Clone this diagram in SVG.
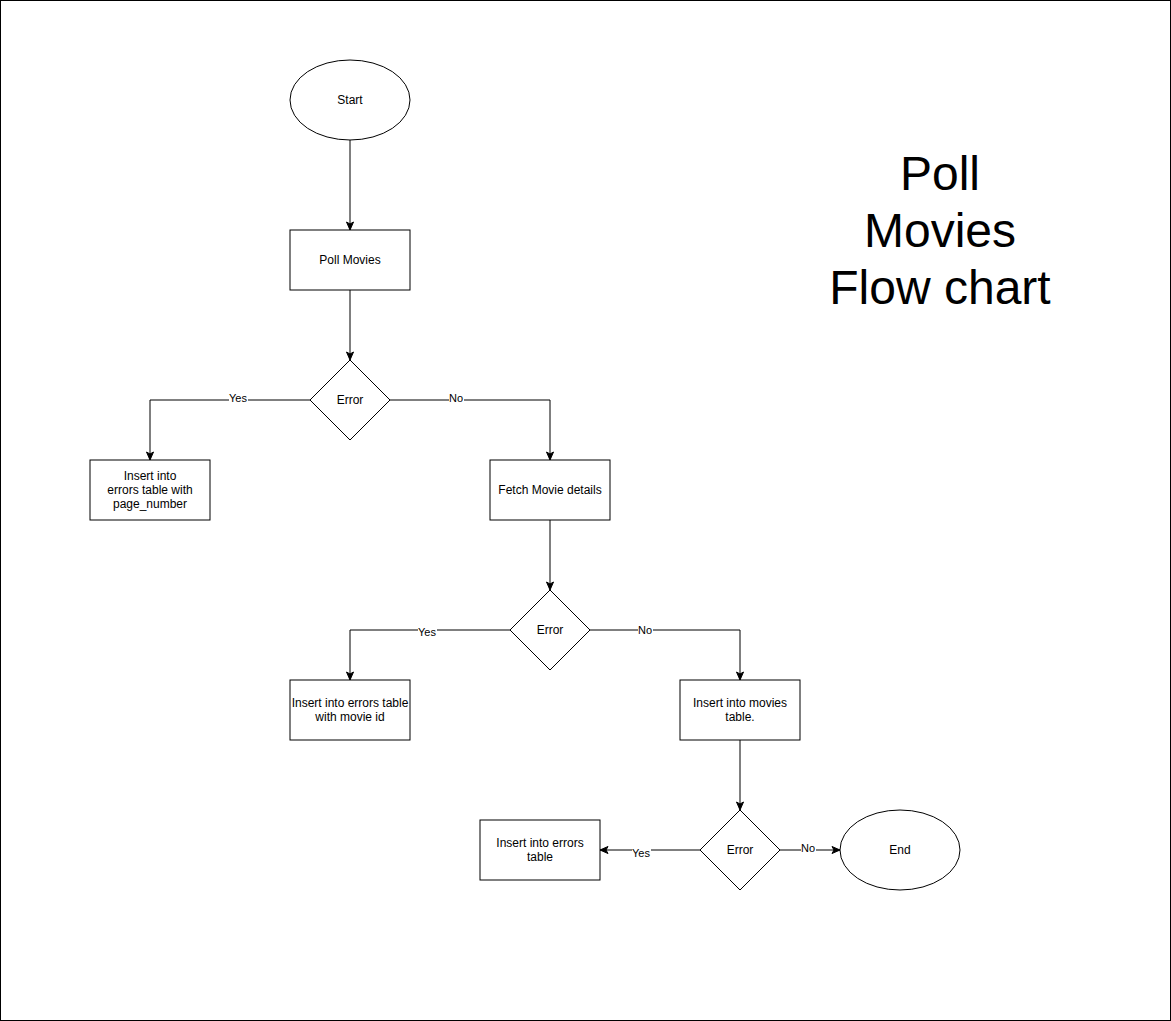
<svg xmlns="http://www.w3.org/2000/svg" width="1171" height="1021" viewBox="0 0 1171 1021">
<defs>
<marker id="arr" markerWidth="10" markerHeight="10" refX="9" refY="5" orient="auto" markerUnits="userSpaceOnUse">
<path d="M1,1.5 L9,5 L1,8.5 L3,5 Z" fill="#000" stroke="#000" stroke-width="1"/>
</marker>
</defs>
<style>
.s{fill:#fff;stroke:#000;stroke-width:1}
.t{font-family:"Liberation Sans",Arial,sans-serif;font-size:12px;fill:#000;text-anchor:middle}
.l{font-family:"Liberation Sans",Arial,sans-serif;font-size:11px;fill:#000;text-anchor:middle}
.lb{fill:#fff}
.c{fill:none;stroke:#000;stroke-width:1;marker-end:url(#arr)}
.title{font-family:"Liberation Sans",Arial,sans-serif;font-size:48px;fill:#000;text-anchor:middle}
</style>
<rect x="0.5" y="0.5" width="1170" height="1020" fill="#fff" stroke="#000"/>
<g id="connectors">
<path class="c" d="M350,140 L350,230"/>
<path class="c" d="M350,290 L350,360"/>
<path class="c" d="M310,400 L150,400 L150,460"/>
<path class="c" d="M390,400 L550,400 L550,460"/>
<path class="c" d="M550,520 L550,590"/>
<path class="c" d="M510,630 L350,630 L350,680"/>
<path class="c" d="M590,630 L740,630 L740,680"/>
<path class="c" d="M740,740 L740,810"/>
<path class="c" d="M700,850 L600,850"/>
<path class="c" d="M780,850 L840,850"/>
<rect class="lb" x="229" y="392" width="19" height="12"/>
<text class="l" x="238" y="402">Yes</text>
<rect class="lb" x="449" y="392" width="15" height="12"/>
<text class="l" x="456" y="402">No</text>
<rect class="lb" x="418" y="626" width="19" height="12"/>
<text class="l" x="427" y="636">Yes</text>
<rect class="lb" x="638" y="624" width="15" height="12"/>
<text class="l" x="645" y="634">No</text>
<rect class="lb" x="632" y="847" width="19" height="12"/>
<text class="l" x="641" y="857">Yes</text>
<rect class="lb" x="801" y="842" width="15" height="12"/>
<text class="l" x="808" y="852">No</text>
</g>
<g id="start"><ellipse class="s" cx="350" cy="100" rx="60" ry="40"/><text class="t" x="350" y="104">Start</text></g>
<g id="poll"><rect class="s" x="290" y="230" width="120" height="60"/><text class="t" x="350" y="264">Poll Movies</text></g>
<g id="error1"><path class="s" d="M350,360 L390,400 L350,440 L310,400 Z"/><text class="t" x="350" y="404">Error</text></g>
<g id="errpage"><rect class="s" x="90" y="460" width="120" height="60"/><text class="t" x="150" y="480">Insert into</text><text class="t" x="150" y="494">errors table with</text><text class="t" x="150" y="508">page_number</text></g>
<g id="fetch"><rect class="s" x="490" y="460" width="120" height="60"/><text class="t" x="550" y="494">Fetch Movie details</text></g>
<g id="error2"><path class="s" d="M550,590 L590,630 L550,670 L510,630 Z"/><text class="t" x="550" y="634">Error</text></g>
<g id="errmovie"><rect class="s" x="290" y="680" width="120" height="60"/><text class="t" x="350" y="707">Insert into errors table</text><text class="t" x="350" y="721">with movie id</text></g>
<g id="insertmovies"><rect class="s" x="680" y="680" width="120" height="60"/><text class="t" x="740" y="707">Insert into movies</text><text class="t" x="740" y="721">table.</text></g>
<g id="error3"><path class="s" d="M740,810 L780,850 L740,890 L700,850 Z"/><text class="t" x="740" y="854">Error</text></g>
<g id="errtable"><rect class="s" x="480" y="820" width="120" height="60"/><text class="t" x="540" y="847">Insert into errors</text><text class="t" x="540" y="861">table</text></g>
<g id="end"><ellipse class="s" cx="900" cy="850" rx="60" ry="40"/><text class="t" x="900" y="854">End</text></g>
<g id="title"><text class="title" x="940" y="190">Poll</text><text class="title" x="940" y="247">Movies</text><text class="title" x="940" y="304">Flow chart</text></g>
</svg>
